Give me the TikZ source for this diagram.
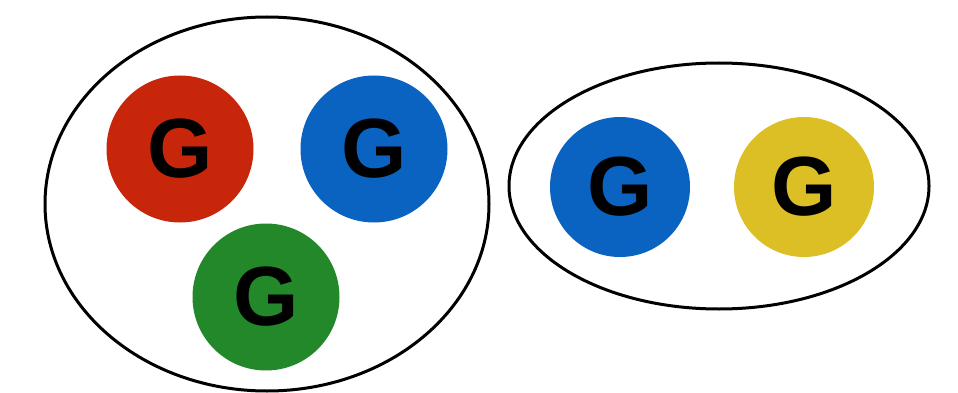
\documentclass[tikz,border=0pt]{standalone}
\usepackage{fontspec}
\setmainfont{Liberation Sans}
\definecolor{gred}{HTML}{C8260A}
\definecolor{gblue}{HTML}{0A63C0}
\definecolor{ggreen}{HTML}{23882A}
\definecolor{gyellow}{HTML}{DCBE25}
\begin{document}
\begin{tikzpicture}[x=1pt,y=-1pt,
  group/.style={draw=black,line width=3pt,fill=white},
  gluon/.style={circle,inner sep=0pt,minimum size=#1,
    font=\fontsize{84}{84}\selectfont\bfseries,text=black},
  gluon/.default=147pt]
\useasboundingbox (0,0) rectangle (958,393);
% two bound groups
\draw[group] (267,204) ellipse [x radius=222, y radius=187];
\draw[group] (719,186) ellipse [x radius=210, y radius=123];
% left group: three colours
\node[gluon,fill=gred]   (r)  at (180,149) {G};
\node[gluon,fill=gblue]  (b)  at (374,149) {G};
\node[gluon,fill=ggreen] (g)  at (266,297) {G};
% right group: two colours
\node[gluon=140pt,fill=gblue]   (b2) at (620,187) {G};
\node[gluon=140pt,fill=gyellow] (y)  at (804,187) {G};
\end{tikzpicture}
\end{document}
